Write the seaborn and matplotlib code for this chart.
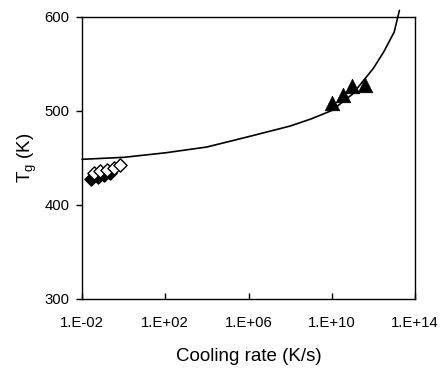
import matplotlib
matplotlib.use("Agg")
import matplotlib.pyplot as plt
import seaborn as sns
import numpy as np
import pandas as pd
from matplotlib.ticker import FixedLocator, FuncFormatter, NullLocator

# Data
curve_rate = [1e-2, 1e0, 1e2, 1e4, 1e6, 1e8, 1e9, 1e10, 1e11, 1e12, 10**12.5, 1e13, 10**13.25]
curve_tg = [448.6, 450.7, 455.5, 461.7, 472.7, 484.0, 491.5, 500.5, 518.0, 545.4, 563.0, 584.0, 607.0]

filled_dia_rate = [10**-1.55, 10**-1.25, 10**-0.95, 10**-0.65]
filled_dia_tg = [428.0, 430.0, 432.0, 434.0]

open_dia_rate = [10**-1.44, 10**-1.12, 10**-0.80, 10**-0.48, 10**-0.19]
open_dia_tg = [434.0, 435.9, 437.6, 439.4, 442.2]

tri_rate = [10**9.99, 10**10.56, 10**10.96, 10**11.6]
tri_tg = [508.0, 517.0, 527.0, 527.7]

xticks = [1e-2, 1e2, 1e6, 1e10, 1e14]
yticks = [300, 400, 500, 600]

sns.set_theme(style="white")
plt.rcParams['font.family'] = ['Liberation Sans', 'DejaVu Sans']
plt.rcParams['mathtext.fontset'] = 'custom'
plt.rcParams['mathtext.rm'] = 'Liberation Sans'
plt.rcParams['mathtext.it'] = 'Liberation Sans'

fig = plt.figure(figsize=(4.41, 3.72), dpi=100)
ax = fig.add_axes([82/441, 73/372, (415-82)/441, (299-17)/372])

sns.lineplot(x=curve_rate, y=curve_tg, ax=ax, color="black", linewidth=1.2,
             sort=False, estimator=None, clip_on=False, zorder=2)
sns.scatterplot(x=filled_dia_rate, y=filled_dia_tg, ax=ax, marker="D", s=45,
                color="black", edgecolor="black", linewidth=1.0, zorder=3)
sns.scatterplot(x=open_dia_rate, y=open_dia_tg, ax=ax, marker="D", s=45,
                color="white", edgecolor="black", linewidth=1.0, zorder=4)
sns.scatterplot(x=tri_rate, y=tri_tg, ax=ax, marker="^", s=110,
                color="black", edgecolor="black", linewidth=0.5, zorder=5)

ax.set_xscale("log")
ax.set_xlim(1e-2, 1e14)
ax.set_ylim(300, 600)
ax.xaxis.set_major_locator(FixedLocator(xticks))
ax.xaxis.set_minor_locator(NullLocator())
ax.xaxis.set_major_formatter(FuncFormatter(lambda v, p: "1.E%+03d" % int(round(np.log10(v)))))
ax.yaxis.set_major_locator(FixedLocator(yticks))

for s in ax.spines.values():
    s.set_color("black")
    s.set_linewidth(1.0)

ax.tick_params(axis="x", direction="in", length=4, width=1, colors="black",
               labelsize=10.7, pad=12)
ax.tick_params(axis="y", direction="out", length=4, width=1, colors="black",
               labelsize=10.7, pad=5)
ax.tick_params(left=True, bottom=True)

ax.set_xlabel("Cooling rate (K/s)", fontsize=13.5, labelpad=13, color="black")
ax.set_ylabel(r"T$_{\mathrm{g}}$ (K)", fontsize=13.5, labelpad=4, color="black")

fig.savefig("out.png", dpi=100)
